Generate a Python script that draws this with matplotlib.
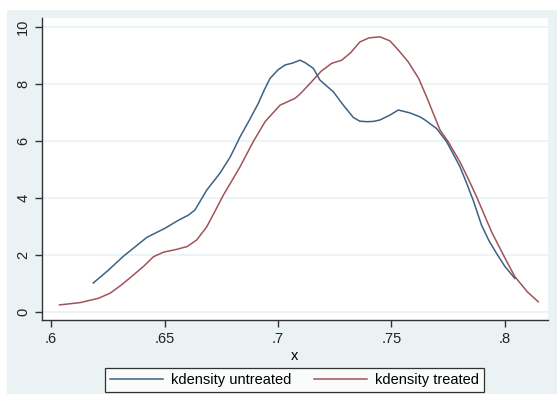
import numpy as np
import matplotlib.pyplot as plt
from matplotlib.patches import Rectangle

plt.rcParams['font.family'] = ['Liberation Sans', 'DejaVu Sans']

# kdensity untreated
x_untreated = [0.6186, 0.6250, 0.6319, 0.6380, 0.6422, 0.6502, 0.6561, 0.6605, 0.6634,
               0.6686, 0.6744, 0.6790, 0.6833, 0.6875, 0.6913, 0.6940, 0.6965, 0.7000,
               0.7031, 0.7065, 0.7097, 0.7120, 0.7156, 0.7185, 0.7244, 0.7288, 0.7332,
               0.7360, 0.7391, 0.7420, 0.7449, 0.7493, 0.7530, 0.7581, 0.7626, 0.7648,
               0.7699, 0.7743, 0.7770, 0.7802, 0.7830, 0.7860, 0.7897, 0.7930, 0.7963,
               0.8000, 0.8044]
y_untreated = [1.02, 1.45, 1.96, 2.35, 2.62, 2.94, 3.22, 3.40, 3.58,
               4.28, 4.87, 5.45, 6.15, 6.75, 7.32, 7.80, 8.20, 8.50,
               8.67, 8.74, 8.84, 8.75, 8.55, 8.14, 7.73, 7.26, 6.83,
               6.70, 6.68, 6.69, 6.74, 6.91, 7.09, 6.99, 6.85, 6.74,
               6.44, 5.98, 5.58, 5.10, 4.55, 3.93, 3.05, 2.50, 2.06,
               1.60, 1.18]

# kdensity treated
x_treated = [0.6037, 0.6128, 0.6208, 0.6260, 0.6310, 0.6363, 0.6410, 0.6451, 0.6495,
             0.6554, 0.6600, 0.6642, 0.6686, 0.6720, 0.6759, 0.6800, 0.6833, 0.6891,
             0.6943, 0.7009, 0.7075, 0.7097, 0.7141, 0.7190, 0.7237, 0.7281, 0.7320,
             0.7361, 0.7400, 0.7449, 0.7493, 0.7530, 0.7574, 0.7620, 0.7655, 0.7714,
             0.7750, 0.7802, 0.7840, 0.7875, 0.7941, 0.8000, 0.8044, 0.8100, 0.8147]
y_treated = [0.25, 0.33, 0.48, 0.66, 0.95, 1.30, 1.62, 1.94, 2.10,
             2.20, 2.30, 2.53, 2.99, 3.50, 4.10, 4.65, 5.10, 5.98,
             6.68, 7.26, 7.50, 7.65, 8.02, 8.45, 8.73, 8.84, 9.10,
             9.48, 9.62, 9.66, 9.52, 9.20, 8.78, 8.20, 7.55, 6.39,
             5.98, 5.27, 4.65, 4.05, 2.82, 1.90, 1.24, 0.70, 0.36]

bg = '#eaf2f3'
blue = '#1a476f'
red = '#90353b'

fig = plt.figure(figsize=(5.57, 3.94), dpi=100)
fig.patches.append(Rectangle((7 / 557, 0), 1, 1 - 10 / 394, transform=fig.transFigure,
                             facecolor=bg, edgecolor='none', zorder=-10))

ax = fig.add_axes([42 / 557, 74 / 394, 506 / 557, 302 / 394])
ax.set_facecolor('white')
ax.plot(x_untreated, y_untreated, color=blue, lw=1.1, alpha=0.85, label='kdensity untreated')
ax.plot(x_treated, y_treated, color=red, lw=1.1, alpha=0.85, label='kdensity treated')

ax.set_xlim(0.596, 0.819)
ax.set_ylim(-0.28, 10.32)
ax.set_xticks([0.6, 0.65, 0.7, 0.75, 0.8])
ax.set_xticklabels(['.6', '.65', '.7', '.75', '.8'])
ax.set_yticks([0, 2, 4, 6, 8, 10])
ax.set_yticklabels(['0', '2', '4', '6', '8', '10'], rotation=90, va='center')
ax.grid(axis='y', color=bg, lw=1.2)
ax.set_axisbelow(True)
for s in ['top', 'right']:
    ax.spines[s].set_visible(False)
for s in ['left', 'bottom']:
    ax.spines[s].set_color('#333333')
    ax.spines[s].set_linewidth(1.0)
ax.tick_params(direction='out', length=5, width=1, color='#333333', labelsize=10.5,
               labelcolor='#222222')
ax.set_xlabel('x', fontsize=10.5, labelpad=2)

leg = fig.legend(loc='center', bbox_to_anchor=(294.5 / 557, 14 / 394), ncol=2,
                 fontsize=10.5, frameon=True, fancybox=False, edgecolor='black',
                 handlelength=3.6, handletextpad=0.55, columnspacing=1.6,
                 borderpad=0.35)
leg.get_frame().set_linewidth(0.9)

fig.savefig('out.png', dpi=100)
